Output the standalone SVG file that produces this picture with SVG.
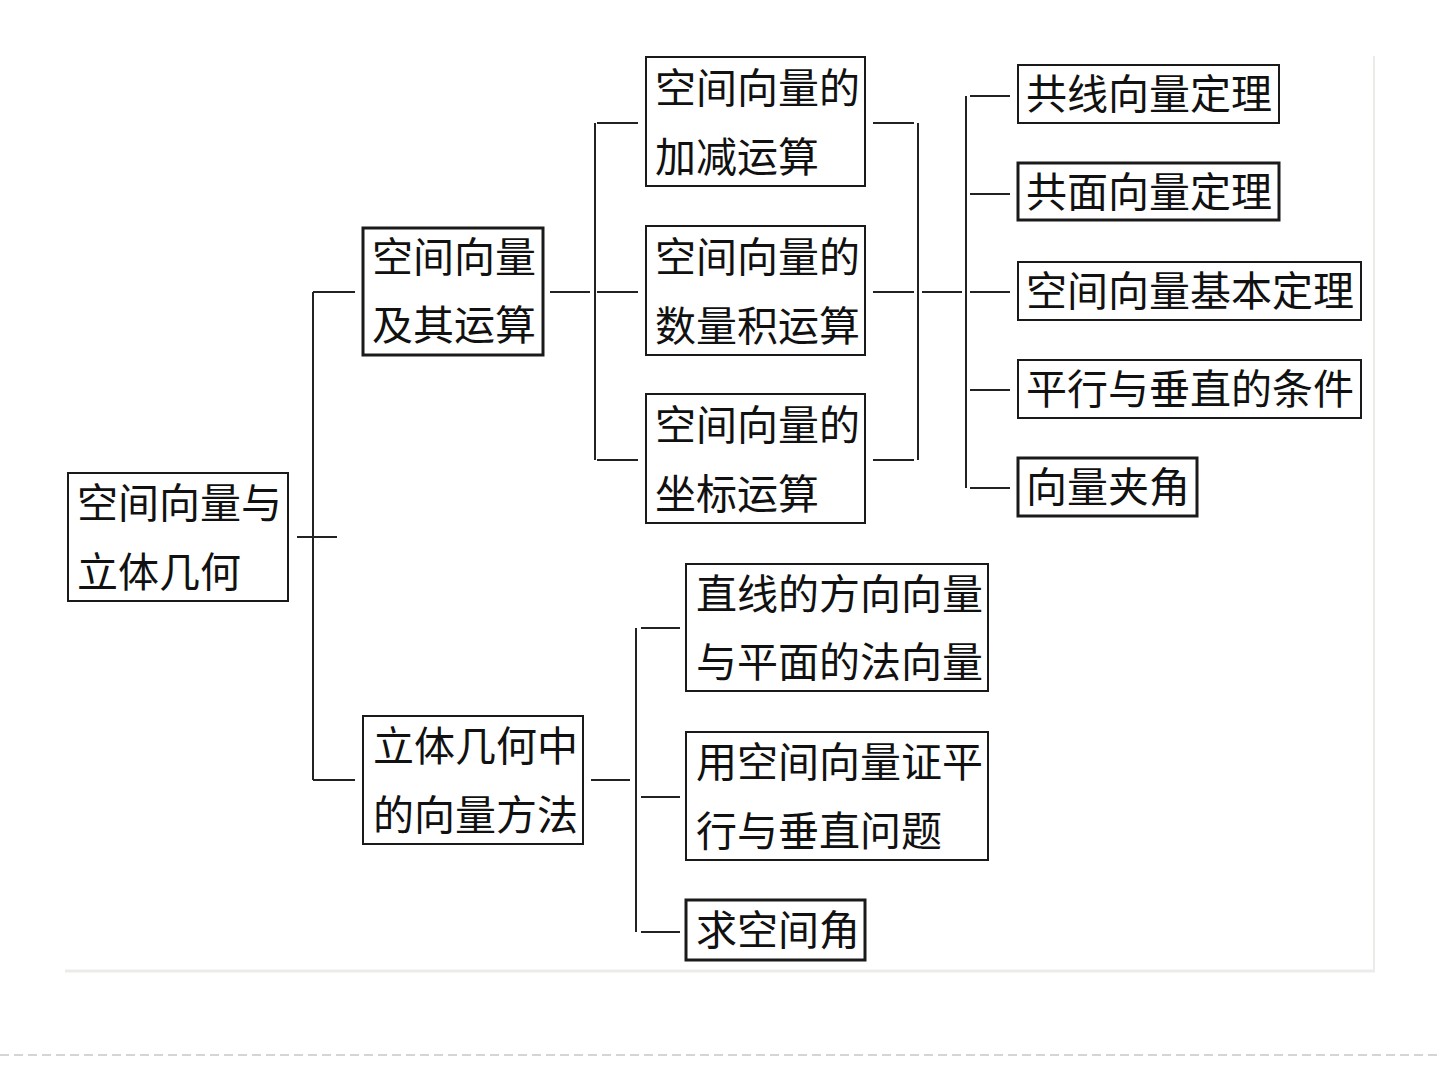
<svg xmlns="http://www.w3.org/2000/svg" width="1440" height="1080" viewBox="0 0 1440 1080">
<style>
.box{fill:#fff;stroke:#1a1a1a;stroke-width:2}
.bold{stroke-width:3}
.t{font-family:"Noto Sans CJK SC","Noto Sans CJK TC",sans-serif;font-size:41px;fill:#111}
.c{fill:none;stroke:#222;stroke-width:2}
</style>
<rect width="1440" height="1080" fill="#fff"/>
<g id="frame">
<line x1="65" y1="971" x2="1375" y2="971" stroke="#ebebe8" stroke-width="3"/>
<line x1="1374" y1="56" x2="1374" y2="971" stroke="#ebebe8" stroke-width="2"/>
<line x1="0" y1="1055" x2="1440" y2="1055" stroke="#c8c8c8" stroke-width="1.5" stroke-dasharray="9 5"/>
</g>
<g id="connectors">
<path class="c" d="M297 537H337M313 292V780M313 292H355M313 780H355"/>
<path class="c" d="M550 292H590M595 123V460M597 123H638M597 292H638M597 460H638"/>
<path class="c" d="M873 123H914M873 292H914M873 460H914M918 123V460M922 292H962"/>
<path class="c" d="M966 96V488M970 96H1010M970 194H1010M970 292H1010M970 390H1010M970 488H1010"/>
<path class="c" d="M591 780H630M636 628V932M641 628H680M641 797H680M641 932H680"/>
</g>
<g id="n1"><rect class="box" x="68" y="473" width="220" height="128"/><text class="t" x="77" y="518">空间向量与</text><text class="t" x="77" y="587">立体几何</text></g>
<g id="n2"><rect class="box bold" x="363" y="228" width="180" height="127"/><text class="t" x="372" y="272">空间向量</text><text class="t" x="372" y="340">及其运算</text></g>
<g id="n3"><rect class="box" x="363" y="716" width="220" height="128"/><text class="t" x="373" y="761">立体几何中</text><text class="t" x="373" y="830">的向量方法</text></g>
<g id="n4"><rect class="box" x="646" y="57" width="219" height="129"/><text class="t" x="655" y="103">空间向量的</text><text class="t" x="655" y="172">加减运算</text></g>
<g id="n5"><rect class="box" x="646" y="226" width="219" height="129"/><text class="t" x="655" y="272">空间向量的</text><text class="t" x="655" y="341">数量积运算</text></g>
<g id="n6"><rect class="box" x="646" y="394" width="219" height="129"/><text class="t" x="655" y="440">空间向量的</text><text class="t" x="655" y="509">坐标运算</text></g>
<g id="n7"><rect class="box" x="686" y="564" width="302" height="127"/><text class="t" x="696" y="609">直线的方向向量</text><text class="t" x="696" y="677">与平面的法向量</text></g>
<g id="n8"><rect class="box" x="686" y="732" width="302" height="128"/><text class="t" x="696" y="777">用空间向量证平</text><text class="t" x="696" y="846">行与垂直问题</text></g>
<g id="n9"><rect class="box bold" x="686" y="900" width="179" height="60"/><text class="t" x="696" y="945">求空间角</text></g>
<g id="n10"><rect class="box" x="1018" y="65" width="261" height="58"/><text class="t" x="1026" y="109">共线向量定理</text></g>
<g id="n11"><rect class="box bold" x="1018" y="163" width="261" height="57"/><text class="t" x="1026" y="207">共面向量定理</text></g>
<g id="n12"><rect class="box" x="1018" y="262" width="343" height="58"/><text class="t" x="1026" y="306">空间向量基本定理</text></g>
<g id="n13"><rect class="box" x="1018" y="360" width="343" height="58"/><text class="t" x="1026" y="404">平行与垂直的条件</text></g>
<g id="n14"><rect class="box bold" x="1018" y="458" width="179" height="58"/><text class="t" x="1026" y="502">向量夹角</text></g>
</svg>
